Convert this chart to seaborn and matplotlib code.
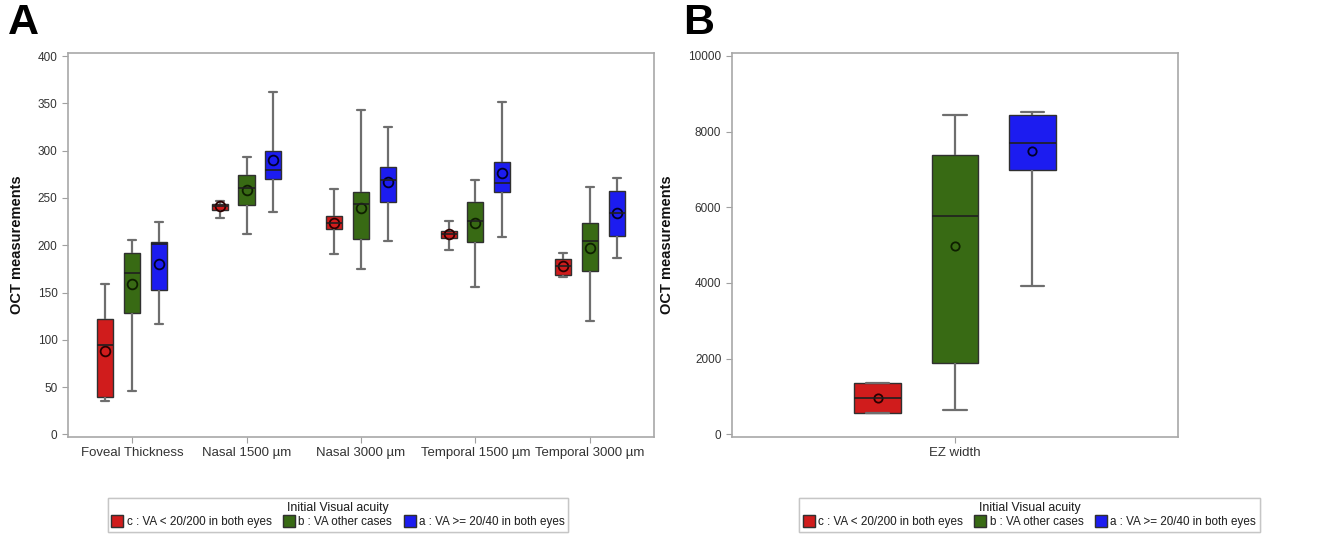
import pandas as pd
import seaborn as sns
import matplotlib.pyplot as plt
from matplotlib.lines import Line2D

# categories and groups
measures = ["Foveal Thickness", "Nasal 1500 µm", "Nasal 3000 µm", "Temporal 1500 µm", "Temporal 3000 µm"]
groups = ["c : VA < 20/200 in both eyes", "b : VA other cases", "a : VA >= 20/40 in both eyes"]
colors = ["#d01c1c", "#386a14", "#1c1cf0"]

# box stats per measure: (min, q1, median, q3, max)
red_box = [(35, 39, 95, 122, 159), (229, 237, 241, 244, 247), (191, 217, 224, 231, 260),
           (195, 208, 212, 215, 226), (166, 169, 178, 185, 192)]
green_box = [(46, 128, 171, 192, 206), (212, 243, 261, 274, 293), (175, 207, 244, 256, 343),
             (156, 203, 226, 246, 269), (120, 173, 204, 224, 262)]
blue_box = [(117, 153, 201, 203, 225), (235, 270, 280, 300, 362), (205, 246, 269, 283, 325),
            (209, 256, 266, 288, 351), (186, 210, 234, 257, 271)]
red_mean = [88, 241, 224, 212, 178]
green_mean = [159, 258, 239, 224, 197]
blue_mean = [180, 290, 267, 276, 234]

# EZ width panel
ez_label = "EZ width"
ez_box = [(555, 555, 951, 1364, 1364), (642, 1876, 5779, 7383, 8449), (3920, 6979, 7708, 8440, 8520)]
ez_mean = [951, 4977, 7497]

# long tables for seaborn
rows, mrows = [], []
for g, boxes, means in zip(groups, [red_box, green_box, blue_box], [red_mean, green_mean, blue_mean]):
    for m, b, mu in zip(measures, boxes, means):
        rows += [{"measure": m, "group": g, "value": v} for v in b]
        mrows.append({"measure": m, "group": g, "mean": mu})
df_a = pd.DataFrame(rows)
mean_a = pd.DataFrame(mrows)

rows, mrows = [], []
for g, b, mu in zip(groups, ez_box, ez_mean):
    rows += [{"measure": ez_label, "group": g, "value": v} for v in b]
    mrows.append({"measure": ez_label, "group": g, "mean": mu})
df_b = pd.DataFrame(rows)
mean_b = pd.DataFrame(mrows)

sns.set_style("white")
plt.rcParams['font.family'] = ['Liberation Sans', 'DejaVu Sans']

fig = plt.figure(figsize=(13.3, 5.35), dpi=100)
ax_a = fig.add_axes([0.0511, 0.1837, 0.4406, 0.7167])
ax_b = fig.add_axes([0.5502, 0.1837, 0.3356, 0.7167])

pal = dict(zip(groups, colors))
dark = dict(zip(groups, ["#2a0000", "#0e1f00", "#00002a"]))
box_kw = dict(whis=(0, 100), linewidth=1, linecolor="#303030", saturation=1,
              whiskerprops={"color": "#6e6e6e", "linewidth": 1.6},
              capprops={"color": "#6e6e6e", "linewidth": 1.6},
              medianprops={"color": "#202020", "linewidth": 1.2},
              showfliers=False, legend=False)

for ax, df, mdf, w, ms in [(ax_a, df_a, mean_a, 0.7, 7), (ax_b, df_b, mean_b, 0.52, 6)]:
    sns.boxplot(data=df, x="measure", y="value", hue="group", hue_order=groups,
                palette=pal, width=w, gap=0.4, ax=ax, **box_kw)
    n0 = len(ax.lines)
    sns.pointplot(data=mdf, x="measure", y="mean", hue="group", hue_order=groups,
                  palette=dark, dodge=2 * w / 3, linestyle="none", markers="o",
                  errorbar=None, legend=False, ax=ax)
    for ln in ax.lines[n0:]:
        ln.set_markerfacecolor("none")
        ln.set_markersize(ms)
        ln.set_markeredgewidth(1.3)
    ax.set_xlabel("")
    ax.set_ylabel("OCT measurements", fontsize=10.5, fontweight="bold", labelpad=10,
                  color="#111111")
    for s in ax.spines.values():
        s.set_visible(True)
        s.set_color("#a8a8a8")
        s.set_linewidth(1.2)
    ax.tick_params(axis="both", direction="out", length=4, color="#a0a0a0",
                   labelcolor="#333333", bottom=True, left=True)
    ax.tick_params(axis="y", labelsize=8.5)
    ax.tick_params(axis="x", labelsize=9.5)

ax_a.set_ylim(-2.5, 403)
ax_a.set_yticks(range(0, 401, 50))
ax_a.set_xlim(-0.56, 4.56)
ax_b.set_ylim(-63, 10071)
ax_b.set_yticks(range(0, 10001, 2000))
ax_b.set_xlim(-0.5, 0.5)

# panel letters
fig.text(0.006, 0.957, "A", fontsize=31, fontweight="bold", va="center", ha="left", color="black")
fig.text(0.514, 0.957, "B", fontsize=31, fontweight="bold", va="center", ha="left", color="black")

# legends below each panel
handles = [Line2D([0], [0], marker="s", linestyle="none", markersize=8,
                  markerfacecolor=c, markeredgecolor="#303030") for c in colors]
for cx in [338 / 1330, 1029.5 / 1330]:
    leg = fig.legend(handles, groups, title="Initial Visual acuity", ncol=3, loc="center",
                     bbox_to_anchor=(cx, 0.0376), frameon=True, fancybox=False,
                     fontsize=8.4, title_fontsize=8.8, handletextpad=0.3,
                     columnspacing=1.0, borderpad=0.3, labelspacing=0.2, handlelength=1.0)
    leg.get_frame().set_edgecolor("#c0c0c0")
    leg.get_frame().set_linewidth(1)
    leg.get_title().set_color("#222222")
    fig.add_artist(leg)

fig.savefig("out.png", dpi=100)
